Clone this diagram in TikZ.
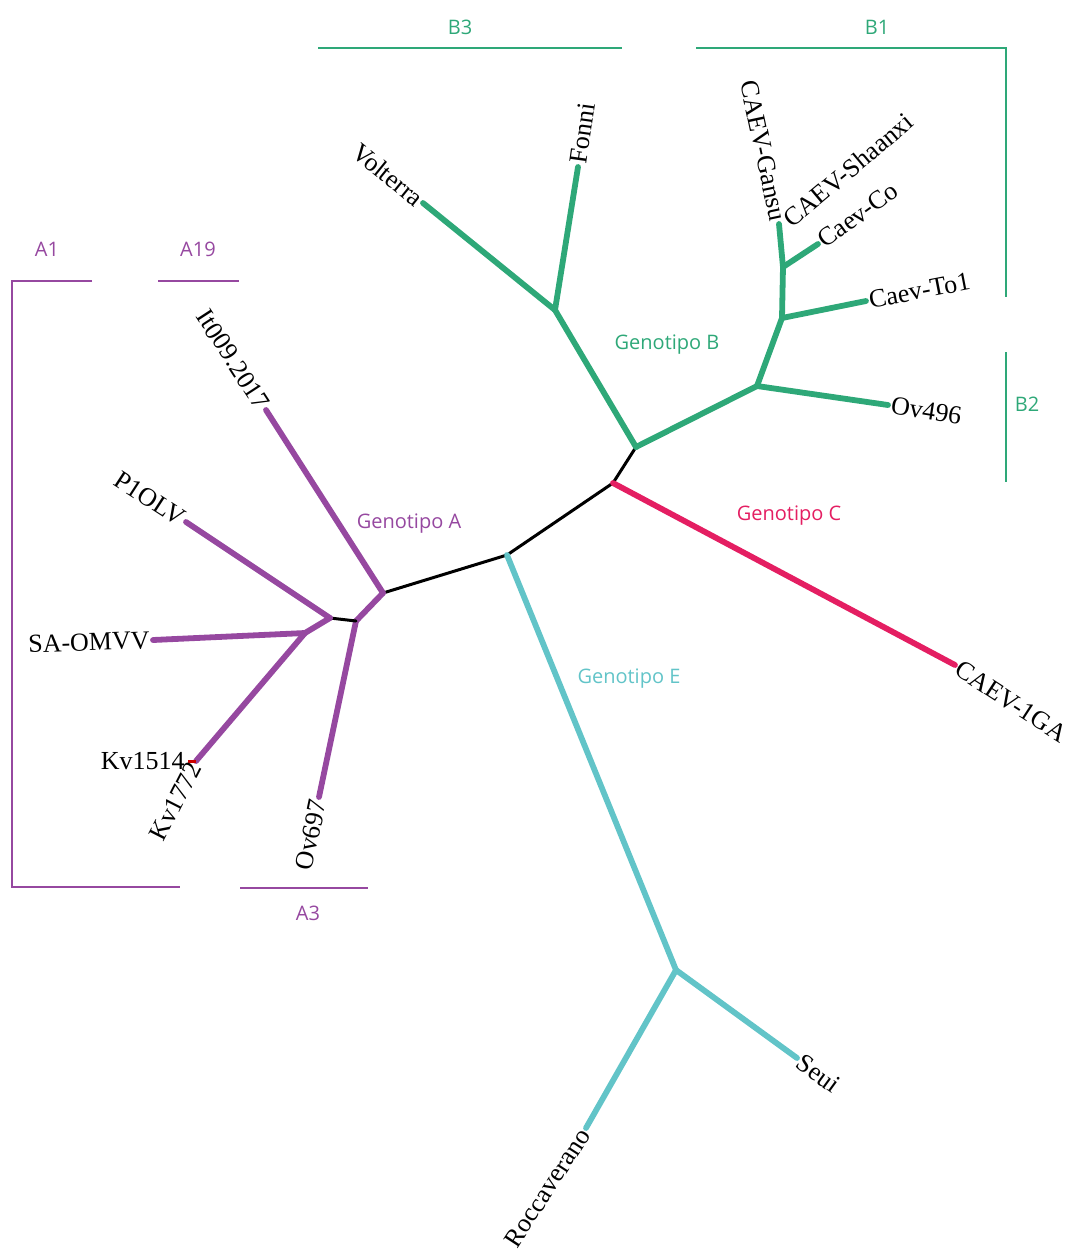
\documentclass[tikz,border=0pt]{standalone}
\usepackage{fontspec}
\setmainfont{Liberation Serif}
\newfontfamily\cladefont{Open Sans}
\definecolor{genA}{RGB}{150,72,160}
\definecolor{genB}{RGB}{46,168,120}
\definecolor{genC}{RGB}{228,30,98}
\definecolor{genE}{RGB}{98,196,200}
\begin{document}
\begin{tikzpicture}[
		x=0.5pt, y=-0.5pt,
		leaf/.style={font=\fontsize{13}{13}\selectfont, inner sep=1.5pt},
		clade/.style={font=\cladefont\fontsize{10}{12}\selectfont},
		branch/.style={line width=2.9pt, line cap=round, line join=round},
		stem/.style={line width=1.5pt, line cap=round, line join=round},
		bracket/.style={line width=0.8pt}
		]
		\useasboundingbox (0,0) rectangle (1078,1250);
		
		% Internal junctions
		\coordinate (jA) at (383,593);
		\coordinate (jE) at (507,555);
		\coordinate (jC) at (613,483);
		\coordinate (jB) at (636,447);
		\coordinate (jB3) at (555,310);
		\coordinate (jB12) at (757,386);
		\coordinate (jB1) at (782,318);
		\coordinate (jB1b) at (783,267);
		\coordinate (jE2) at (676,970);
		\coordinate (jA2) at (356,621);
		\coordinate (jA3) at (330,618);
		\coordinate (jA4) at (305,633);
		
		% Tips
		\coordinate (tVolterra) at (423,203);
		\coordinate (tFonni) at (578,167);
		\coordinate (tOv496) at (888,405);
		\coordinate (tTo1) at (866,301);
		\coordinate (tCo) at (818,244);
		\coordinate (tGansu) at (779,224);
		\coordinate (tShaanxi) at (784,224);
		\coordinate (tIGA) at (955,665);
		\coordinate (tSeui) at (797,1058);
		\coordinate (tRocca) at (586,1128);
		\coordinate (tIt) at (266,410);
		\coordinate (tP1) at (186,522);
		\coordinate (tSA) at (153,640);
		\coordinate (tKv) at (196,761);
		\coordinate (tKv1514) at (188,761);
		\coordinate (tOv697) at (319,797);
		
		% Backbone
		\draw[stem] (jA) -- (jE) -- (jC) -- (jB);
		
		% Genotipo B
		\draw[branch, genB] (jB) -- (jB3);
		\draw[branch, genB] (jB3) -- (tVolterra);
		\draw[branch, genB] (jB3) -- (tFonni);
		\draw[branch, genB] (jB) -- (jB12);
		\draw[branch, genB] (jB12) -- (tOv496);
		\draw[branch, genB] (jB12) -- (jB1);
		\draw[branch, genB] (jB1) -- (tTo1);
		\draw[branch, genB] (jB1) -- (jB1b);
		\draw[branch, genB] (jB1b) -- (tCo);
		\draw[branch, genB] (jB1b) -- (tGansu);
		
		% Genotipo C
		\draw[branch, genC] (jC) -- (tIGA);
		
		% Genotipo E
		\draw[branch, genE] (jE) -- (jE2);
		\draw[branch, genE] (jE2) -- (tSeui);
		\draw[branch, genE] (jE2) -- (tRocca);
		
		% Genotipo A
		\draw[branch, genA] (jA) -- (tIt);
		\draw[branch, genA] (jA) -- (jA2);
		\draw[branch, genA] (jA2) -- (tOv697);
		\draw[stem] (jA2) -- (jA3);
		\draw[branch, genA] (jA3) -- (tP1);
		\draw[branch, genA] (jA3) -- (jA4);
		\draw[branch, genA] (jA4) -- (tSA);
		\draw[branch, genA] (jA4) -- (tKv);
		\draw[line width=1.5pt, red!80!black] (tKv) -- (tKv1514);
		
		% Leaf labels
		\node[leaf, anchor=east, rotate=-39] (volterra) at (tVolterra) {Volterra};
		\node[leaf, anchor=west, rotate=82] (fonni) at (tFonni) {Fonni};
		\node[leaf, anchor=east, rotate=-78] (gansu) at (tGansu) {CAEV-Gansu};
		\node[leaf, anchor=west, rotate=40] (shaanxi) at (tShaanxi) {CAEV-Shaanxi};
		\node[leaf, anchor=west, rotate=36] (co) at (tCo) {Caev-Co};
		\node[leaf, anchor=west, rotate=11] (to1) at (tTo1) {Caev-To1};
		\node[leaf, anchor=west, rotate=-9] (ov496) at (tOv496) {Ov496};
		\node[leaf, anchor=west, rotate=-33] (iga) at (tIGA) {CAEV-1GA};
		\node[leaf, anchor=west, rotate=-36] (seui) at (tSeui) {Seui};
		\node[leaf, anchor=east, rotate=57] (rocca) at (tRocca) {Roccaverano};
		\node[leaf, anchor=east, rotate=-57] (it009) at (tIt) {It009.2017};
		\node[leaf, anchor=east, rotate=-33] (p1olv) at (tP1) {P1OLV};
		\node[leaf, anchor=east, rotate=2] (saomvv) at (tSA) {SA-OMVV};
		\node[leaf, anchor=east] (kv1514) at (tKv1514) {Kv1514};
		\node[leaf, anchor=east, rotate=63] (kv1772) at (tKv) {Kv1772};
		\node[leaf, anchor=east, rotate=78] (ov697) at (tOv697) {Ov697};
		
		% Genotype labels
		\node[clade, genA] (labA) at (409,524) {Genotipo A};
		\node[clade, genB] (labB) at (667,345) {Genotipo B};
		\node[clade, genC] (labC) at (789,516) {Genotipo C};
		\node[clade, genE] (labE) at (629,679) {Genotipo E};
		
		% Subgroup brackets
		\draw[bracket, genA] (92,281) -- (12,281) -- (12,887) -- (180,887);
		\draw[bracket, genA] (158,281) -- (239,281);
		\draw[bracket, genA] (240,888) -- (368,888);
		\draw[bracket, genB] (318,48) -- (622,48);
		\draw[bracket, genB] (696,48) -- (1006,48) -- (1006,297);
		\draw[bracket, genB] (1006,352) -- (1006,482);
		\node[clade, genA] (subA1) at (47,249) {A1};
		\node[clade, genA] (subA19) at (198,249) {A19};
		\node[clade, genA] (subA3) at (308,913) {A3};
		\node[clade, genB] (subB3) at (460,27) {B3};
		\node[clade, genB] (subB1) at (877,27) {B1};
		\node[clade, genB] (subB2) at (1027,404) {B2};
		
	\end{tikzpicture}
\end{document}
